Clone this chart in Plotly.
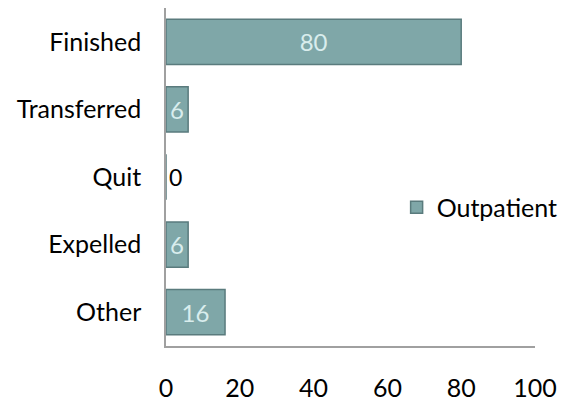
import plotly.graph_objects as go

categories = ["Other", "Expelled", "Quit", "Transferred", "Finished"]
values = [16, 6, 0, 6, 80]
series_name = "Outpatient"
x_ticks = [0, 20, 40, 60, 80, 100]

FONT = "Lato"
FS = 25
positions = ["outside" if v == 0 else "inside" for v in values]

fig = go.Figure()
fig.add_trace(go.Bar(
    y=categories, x=values, orientation="h", name=series_name,
    marker=dict(color="#7fa7a8", line=dict(color="#5a7b7d", width=1.5)),
    text=[str(v) for v in values], textposition=positions,
    insidetextanchor="middle", constraintext="none",
    insidetextfont=dict(family=FONT, size=FS - 1, color="#d9eded"),
    outsidetextfont=dict(family=FONT, size=FS - 2, color="#000000"),
    cliponaxis=False,
))

fig.update_layout(
    width=571, height=402,
    margin=dict(l=166, r=36, t=8, b=56, autoexpand=False),
    paper_bgcolor="white", plot_bgcolor="white",
    font=dict(family=FONT, size=FS, color="#000000"),
    bargap=0.33,
    showlegend=True,
    legend=dict(x=0.625, y=0.41, xanchor="left", yanchor="middle",
                font=dict(family=FONT, size=FS, color="#000000"),
                bgcolor="rgba(0,0,0,0)", itemwidth=30),
    xaxis=dict(range=[0, 100], tickvals=x_ticks, showgrid=False, zeroline=False,
               showline=True, linecolor="#a0a0a0", linewidth=1.5,
               ticks="", ticklabelstandoff=19, automargin=False),
    yaxis=dict(categoryorder="array", categoryarray=categories,
               showgrid=False, zeroline=False, showline=True,
               linecolor="#a0a0a0", linewidth=1.5, ticks="",
               ticklabelstandoff=18, automargin=False),
)

fig.write_html("out.html", config={"displayModeBar": False},
               post_script="document.body.style.margin='0';")
